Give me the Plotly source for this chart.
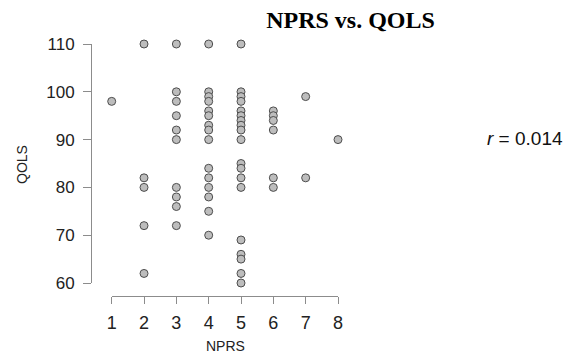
import plotly.graph_objects as go

# NPRS score -> list of QOLS values
q_n1 = [98]
q_n2 = [110, 82, 80, 72, 62]
q_n3 = [110, 100, 98, 95, 92, 90, 80, 78, 76, 72]
q_n4 = [110, 100, 99, 98, 96, 95, 93, 92, 90, 84, 82, 80, 78, 75, 70]
q_n5 = [110, 100, 99, 98, 96, 95, 94, 93, 92, 90, 85, 84, 82, 80, 69, 66, 65, 62, 60]
q_n6 = [96, 95, 94, 92, 82, 80]
q_n7 = [99, 82]
q_n8 = [90]

groups = [q_n1, q_n2, q_n3, q_n4, q_n5, q_n6, q_n7, q_n8]
nprs = []
qols = []
for i, g in enumerate(groups, start=1):
    nprs += [i] * len(g)
    qols += g

x_ticks = [1, 2, 3, 4, 5, 6, 7, 8]
y_ticks = [60, 70, 80, 90, 100, 110]
r_text = "<i>r</i> = 0.014"

# page body has an 8px margin, so the figure starts at (8, 8)
OFF = 8
W, H = 574 - OFF, 356 - OFF
def px(x):
    return (x - OFF) / W
def py(y):
    return 1 - (y - OFF) / H

fig = go.Figure()
fig.add_trace(go.Scatter(
    x=nprs, y=qols, mode="markers", cliponaxis=False,
    marker=dict(size=8, color="#bdbdbd", line=dict(color="#4d4d4d", width=1)),
    showlegend=False, hoverinfo="x+y",
))

axis_col = "#8c8c8c"
sans = "Liberation Sans, Arial, sans-serif"
fig.update_layout(
    width=W, height=H,
    margin=dict(l=0, r=0, t=0, b=0, autoexpand=False),
    paper_bgcolor="white", plot_bgcolor="white",
    font=dict(family=sans, color="#222"),
    xaxis=dict(
        domain=[px(111.7), px(338)], range=[1, 8],
        anchor="free", position=py(296),
        tickvals=x_ticks, ticks="outside", ticklen=7, tickcolor=axis_col,
        showline=True, linecolor=axis_col, linewidth=1,
        showgrid=False, zeroline=False, ticklabelstandoff=3,
        tickfont=dict(size=18), automargin=False,
    ),
    yaxis=dict(
        domain=[py(283), py(44)], range=[60, 110],
        anchor="free", position=px(91),
        tickvals=y_ticks, ticks="outside", ticklen=8, tickcolor=axis_col,
        showline=True, linecolor=axis_col, linewidth=1,
        showgrid=False, zeroline=False, ticklabelstandoff=5,
        tickfont=dict(size=17), automargin=False,
    ),
    title=dict(text="<b>NPRS vs. QOLS</b>", x=px(350.5), xanchor="center",
               y=py(20), yanchor="middle",
               font=dict(family="Liberation Serif, Times New Roman, serif", size=24, color="#000")),
    annotations=[
        dict(text=r_text, xref="paper", yref="paper", x=px(525), y=py(138),
             xanchor="center", yanchor="middle", showarrow=False,
             font=dict(size=19, color="#111")),
        dict(text="NPRS", xref="paper", yref="paper", x=px(225), y=py(346),
             xanchor="center", yanchor="middle", showarrow=False,
             font=dict(size=14, color="#222")),
        dict(text="QOLS", xref="paper", yref="paper", x=px(22), y=py(165),
             xanchor="center", yanchor="middle", showarrow=False, textangle=-90,
             font=dict(size=14, color="#222")),
    ],
)

fig.write_html("out.html")
